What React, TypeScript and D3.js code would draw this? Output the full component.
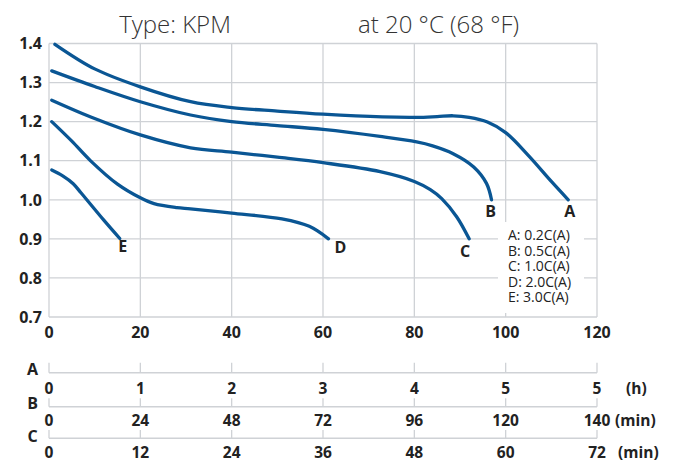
import React from 'react';
import * as d3 from 'd3';

// discharge curves, x = duration on the main axis, y = voltage (V)
const curveA: [number, number][] = [[1.3, 1.398], [10, 1.335], [20, 1.289], [31, 1.251], [40, 1.236], [50, 1.227], [60, 1.219], [73, 1.212], [80.5, 1.211], [85, 1.213], [88.5, 1.215], [92, 1.211], [96, 1.199], [100, 1.172], [105, 1.113], [110, 1.047], [113.7, 1.0]];
const curveB: [number, number][] = [[0.6, 1.33], [10, 1.29], [20, 1.251], [31, 1.217], [40, 1.2], [50, 1.19], [60, 1.18], [72.5, 1.162], [80.5, 1.148], [84, 1.138], [88.5, 1.118], [93, 1.084], [95.8, 1.042], [96.9, 1.0]];
const curveC: [number, number][] = [[0.6, 1.255], [10, 1.208], [20, 1.166], [31, 1.133], [40, 1.122], [50, 1.109], [60, 1.095], [72.5, 1.072], [80, 1.047], [83.5, 1.026], [86, 1.003], [89.3, 0.956], [92, 0.9]];
const curveD: [number, number][] = [[0.6, 1.2], [5, 1.15], [9, 1.101], [15, 1.04], [20, 1.005], [23, 0.99], [28, 0.98], [31, 0.977], [40, 0.966], [51, 0.951], [57, 0.932], [61.2, 0.9]];
const curveE: [number, number][] = [[0.6, 1.076], [3, 1.061], [5.3, 1.041], [7, 1.018], [9, 0.99], [12, 0.948], [15.5, 0.901]];

const seriesNames = ['A', 'B', 'C', 'D', 'E'];
const legendLines = ['A: 0.2C(A)', 'B: 0.5C(A)', 'C: 1.0C(A)', 'D: 2.0C(A)', 'E: 3.0C(A)'];

const xTicks = [0, 20, 40, 60, 80, 100, 120];
const yTicks = [0.7, 0.8, 0.9, 1.0, 1.1, 1.2, 1.3, 1.4];

// secondary time axes under the chart
const axisALabels = ['0', '1', '2', '3', '4', '5', '5'];
const axisBLabels = ['0', '24', '48', '72', '96', '120', '140'];
const axisCLabels = ['0', '12', '24', '36', '48', '60', '72'];
const axisUnits = ['(h)', '(min)', '(min)'];

const width = 678;
const height = 461;
const marginLeft = 49;
const marginRight = 81;
const marginTop = 43.5;
const plotBottom = 317;

const blue = '#0a5694';
const grid = '#cfd2d6';
const font = '"Open Sans", "Noto Sans", sans-serif';

export default function App() {
  const x = d3.scaleLinear().domain([0, 120]).range([marginLeft, width - marginRight]);
  const y = d3.scaleLinear().domain([0.7, 1.4]).range([plotBottom, marginTop]);

  const line = d3.line<[number, number]>()
    .x(d => x(d[0]))
    .y(d => y(d[1]))
    .curve(d3.curveCatmullRom.alpha(0.5));

  const curves = [curveA, curveB, curveC, curveD, curveE];
  // letter positions relative to each curve's end point
  const letterOffsets = [[1.5, 17], [-1, 17], [-4, 18], [12, 14], [3, 14]];

  const subAxes = [
    { labels: axisALabels, lineY: 372.7, tickTop: 362.7, labelY: 393.5, letterY: 375, unitX: 626 },
    { labels: axisBLabels, lineY: 406.7, tickTop: 398.3, labelY: 426, letterY: 408.5, unitX: 615 },
    { labels: axisCLabels, lineY: 438.3, tickTop: 430, labelY: 457.5, letterY: 441.5, unitX: 618 },
  ];

  return (
    <svg width={width} height={height} style={{ position: 'absolute', left: 0, top: 0, background: '#fff' }}
      fontFamily={font}>
      {/* titles */}
      <text x={175} y={33} textAnchor="middle" fontSize={24} fontWeight={300} fill="#333">Type: KPM</text>
      <text x={358} y={33} fontSize={24} fontWeight={300} fill="#333">at 20 °C (68 °F)</text>

      {/* grid */}
      <g stroke={grid} strokeWidth={1.3}>
        {xTicks.map(t => (
          <line key={'gx' + t} x1={x(t)} x2={x(t)} y1={marginTop} y2={plotBottom} />
        ))}
        {yTicks.map(t => (
          <line key={'gy' + t} x1={marginLeft} x2={width - marginRight} y1={y(t)} y2={y(t)} />
        ))}
      </g>

      {/* y tick labels */}
      {yTicks.map(t => (
        <text key={'yl' + t} x={42} y={y(t)} dy="0.36em" textAnchor="end" fontSize={16} fontWeight={700} fill="#222">
          {t.toFixed(1)}
        </text>
      ))}
      {/* x tick labels */}
      {xTicks.map(t => (
        <text key={'xl' + t} x={x(t)} y={337.5} textAnchor="middle" fontSize={16} fontWeight={700} fill="#222">
          {t}
        </text>
      ))}

      {/* curves */}
      {curves.map((c, i) => (
        <path key={'c' + i} d={line(c) || ''} fill="none" stroke={blue} strokeWidth={3.3} strokeLinecap="round" />
      ))}
      {curves.map((c, i) => {
        const end = c[c.length - 1];
        return (
          <text key={'n' + i} x={x(end[0]) + letterOffsets[i][0]} y={y(end[1]) + letterOffsets[i][1]}
            textAnchor="middle" fontSize={16} fontWeight={700} fill="#222">
            {seriesNames[i]}
          </text>
        );
      })}

      {/* legend */}
      <rect x={498} y={222} width={86} height={91} fill="#fff" />
      {legendLines.map((s, i) => (
        <text key={'lg' + i} x={508} y={240 + i * 15.6} fontSize={14} fill="#222">{s}</text>
      ))}

      {/* secondary axes */}
      {subAxes.map((a, i) => (
        <g key={'ax' + i}>
          <line x1={x(0)} x2={x(120)} y1={a.lineY} y2={a.lineY} stroke={grid} strokeWidth={1.5} />
          {xTicks.map(t => (
            <line key={'t' + t} x1={x(t)} x2={x(t)} y1={a.tickTop} y2={a.lineY} stroke={grid} strokeWidth={1.3} />
          ))}
          <text x={32.5} y={a.letterY} textAnchor="middle" fontSize={16} fontWeight={700} fill="#222">{seriesNames[i]}</text>
          {a.labels.map((s, j) => (
            <text key={'l' + j} x={x(xTicks[j])} y={a.labelY} textAnchor="middle" fontSize={15.5} fontWeight={700} fill="#222">{s}</text>
          ))}
          <text x={a.unitX} y={a.labelY} fontSize={15.5} fontWeight={700} fill="#222">{axisUnits[i]}</text>
        </g>
      ))}
    </svg>
  );
}
